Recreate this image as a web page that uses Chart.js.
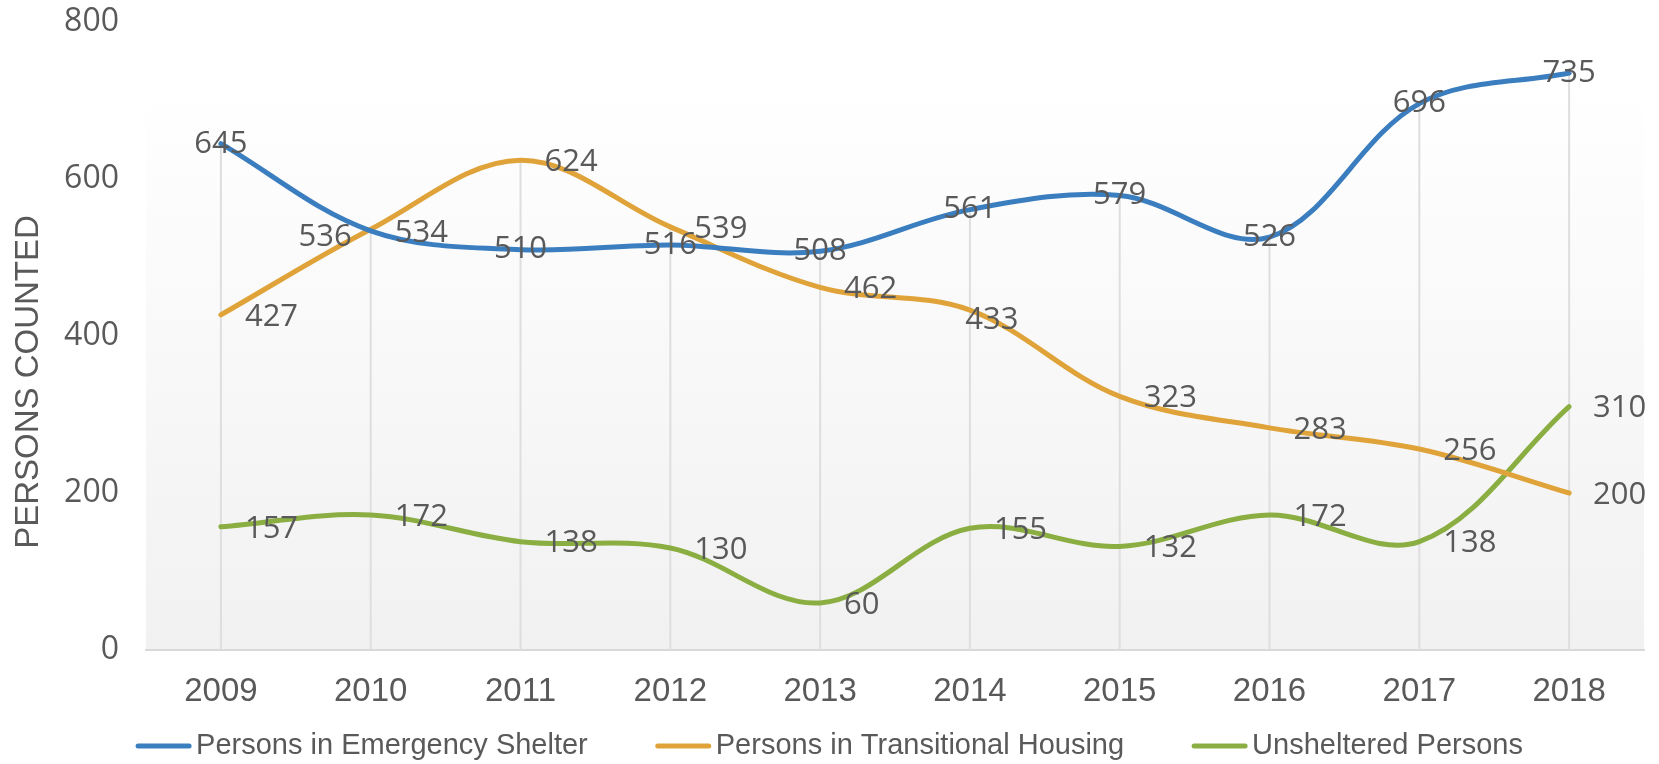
<!DOCTYPE html>
<html lang="en">
<head>
<meta charset="UTF-8">
<title>Persons Counted</title>
<script src="https://cdn.jsdelivr.net/npm/chart.js@4.4.1/dist/chart.umd.min.js"></script>
<style>
  body { margin: 0; background: #fff; }
</style>
</head>
<body>
<canvas id="chart" width="1659" height="764"></canvas>

<script>
var years = ["2009", "2010", "2011", "2012", "2013", "2014", "2015", "2016", "2017", "2018"];
var shelter = [645, 534, 510, 516, 508, 561, 579, 526, 696, 735];
var transitional = [427, 536, 624, 539, 462, 433, 323, 283, 256, 200];
var unsheltered = [157, 172, 138, 130, 60, 155, 132, 172, 138, 310];
var yTicks = [0, 200, 400, 600, 800];

var seriesNames = ["Persons in Emergency Shelter", "Persons in Transitional Housing", "Unsheltered Persons"];
var seriesColors = ["#3b7ebf", "#dfa33a", "#8bae42"];

// where each value label sits: c = on the point, r = right, l = left, d = right and lower
var labelSpots = [
    ['c', 'r', 'c', 'c', 'c', 'c', 'c', 'c', 'c', 'c'],
    ['r', 'l', 'r', 'r', 'r', 'd', 'r', 'r', 'r', 'r'],
    ['r', 'r', 'r', 'r', 'r', 'r', 'r', 'r', 'r', 'r']
];

var textColor = '#595959';

// plot area fill, light gradient
var plotBg = {
    id: 'plotBg',
    beforeDraw: function(chart) {
        var a = chart.chartArea, ctx = chart.ctx;
        var g = ctx.createLinearGradient(0, a.top, 0, a.bottom);
        g.addColorStop(0, '#ffffff');
        g.addColorStop(0.1, '#ffffff');
        g.addColorStop(1, '#f1f1f1');
        ctx.save();
        ctx.fillStyle = g;
        ctx.fillRect(a.left, a.top, a.right - a.left, a.bottom - a.top);
        ctx.restore();
    }
};

// excel style drop lines, from the highest point down to the axis
var dropLines = {
    id: 'dropLines',
    beforeDatasetsDraw: function(chart) {
        var ctx = chart.ctx, bottom = chart.chartArea.bottom;
        ctx.save();
        ctx.strokeStyle = '#dedede';
        ctx.lineWidth = 2;
        for (var j = 0; j < years.length; j++) {
            var top = bottom;
            for (var i = 0; i < chart.data.datasets.length; i++) {
                var pt = chart.getDatasetMeta(i).data[j];
                if (pt.y < top) top = pt.y;
            }
            var x = chart.getDatasetMeta(0).data[j].x;
            ctx.beginPath();
            ctx.moveTo(x, bottom);
            ctx.lineTo(x, top);
            ctx.stroke();
        }
        ctx.restore();
    }
};

var valueLabels = {
    id: 'valueLabels',
    afterDatasetsDraw: function(chart) {
        var ctx = chart.ctx;
        ctx.save();
        ctx.font = '31px "Open Sans"';
        ctx.fillStyle = textColor;
        ctx.textBaseline = 'middle';
        chart.data.datasets.forEach(function(ds, i) {
            chart.getDatasetMeta(i).data.forEach(function(pt, j) {
                var spot = labelSpots[i][j];
                var x = pt.x, y = pt.y;
                if (spot == 'c') {
                    ctx.textAlign = 'center';
                } else if (spot == 'l') {
                    ctx.textAlign = 'right';
                    x -= 19; y += 8;
                } else if (spot == 'd') {
                    ctx.textAlign = 'center';
                    x += 22; y += 10;
                } else {
                    ctx.textAlign = 'left';
                    x += 24; y += 2;
                }
                ctx.fillText(ds.data[j], x, y);
            });
        });
        ctx.restore();
    }
};

// y title and bottom legend
var extras = {
    id: 'extras',
    afterDraw: function(chart) {
        var ctx = chart.ctx;
        ctx.save();
        ctx.fillStyle = textColor;
        ctx.font = '33px "Liberation Sans", Arial';
        ctx.textAlign = 'center';
        ctx.textBaseline = 'middle';
        ctx.translate(29, 382);
        ctx.rotate(-Math.PI / 2);
        ctx.fillText('PERSONS COUNTED', 0, 0);
        ctx.restore();

        ctx.save();
        ctx.font = '29px "Liberation Sans", Arial';
        ctx.textBaseline = 'middle';
        ctx.textAlign = 'left';
        var lineLen = 55, gap = 5, itemGap = 68, y = 746;
        var total = 0;
        seriesNames.forEach(function(n, i) {
            total += lineLen + gap + ctx.measureText(n).width;
            if (i > 0) total += itemGap;
        });
        var x = (chart.width - total) / 2;
        seriesNames.forEach(function(n, i) {
            ctx.strokeStyle = seriesColors[i];
            ctx.lineWidth = 5;
            ctx.lineCap = 'round';
            ctx.beginPath();
            ctx.moveTo(x + 2, y);
            ctx.lineTo(x + lineLen - 2, y);
            ctx.stroke();
            x += lineLen + gap;
            ctx.fillStyle = textColor;
            ctx.fillText(n, x, y);
            x += ctx.measureText(n).width + itemGap;
        });
        ctx.restore();
    }
};

function makeSet(i, values) {
    return {
        label: seriesNames[i],
        data: values,
        borderColor: seriesColors[i],
        backgroundColor: seriesColors[i],
        borderWidth: 5,
        borderCapStyle: 'round',
        pointRadius: 0,
        pointHoverRadius: 0,
        tension: 0.35,
        fill: false
    };
}

var ctx = document.getElementById('chart').getContext('2d');
var myChart = new Chart(ctx, {
    type: 'line',
    data: {
        labels: years,
        datasets: [makeSet(0, shelter), makeSet(1, transitional), makeSet(2, unsheltered)]
    },
    options: {
        responsive: false,
        animation: false,
        layout: { padding: { top: 0, right: 15, left: 0, bottom: 0 } },
        plugins: {
            legend: { display: false },
            tooltip: { enabled: false }
        },
        scales: {
            x: {
                offset: true,
                grid: { display: false },
                border: { display: true, color: '#d9d9d9', width: 2 },
                ticks: {
                    color: textColor,
                    font: { family: '"Liberation Sans", Arial', size: 33 },
                    padding: 14,
                    maxRotation: 0
                },
                afterFit: function(s) { s.height = 114; }
            },
            y: {
                min: 0,
                max: 800,
                grid: { display: false },
                border: { display: false },
                ticks: {
                    color: textColor,
                    font: { family: '"Open Sans"', size: 32 },
                    padding: 19
                },
                afterBuildTicks: function(s) {
                    s.ticks = yTicks.map(function(v) { return { value: v }; });
                },
                afterFit: function(s) {
                    s.width = 146;
                    s.paddingTop = 22;
                    s.paddingBottom = 0;
                }
            }
        }
    },
    plugins: [plotBg, dropLines, valueLabels, extras]
});
</script>
</body>
</html>
